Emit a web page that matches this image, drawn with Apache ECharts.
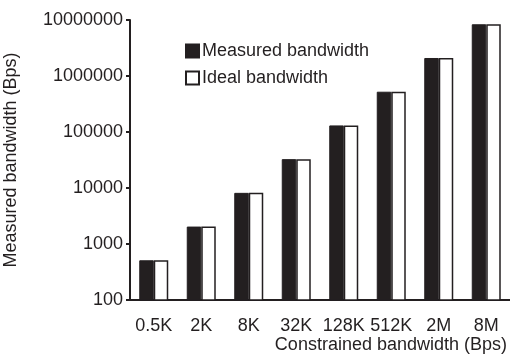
<!DOCTYPE html>
<html>
<head>
<meta charset="utf-8">
<script src="https://cdn.jsdelivr.net/npm/echarts@6/dist/echarts.min.js"></script>
<style>
  html, body { margin: 0; padding: 0; background: #fff; }
  #chart { width: 510px; height: 355px; }
</style>
</head>
<body>
<div id="chart"></div>
<script>
// Constrained link rates and the throughput observed at each one
const categories = ['0.5K', '2K', '8K', '32K', '128K', '512K', '2M', '8M'];
const measuredBandwidth = [512, 2048, 8192, 32768, 131072, 524288, 2097152, 8388608];
const idealBandwidth = [512, 2048, 8192, 32768, 131072, 524288, 2097152, 8388608];
const yTickLabels = ['100', '1000', '10000', '100000', '1000000', '10000000'];

const ink = '#231f20';
const font = "'Liberation Sans', Arial, Helvetica, sans-serif";
const fs = 18;

const chart = echarts.init(document.getElementById('chart'), null, { renderer: 'canvas' });

chart.setOption({
  animation: false,
  backgroundColor: '#fff',
  textStyle: { fontFamily: font, color: ink },
  grid: { left: 130, right: 0, top: 20, bottom: 55, containLabel: false, outerBoundsMode: 'none' },
  legend: {
    orient: 'vertical',
    left: 180,
    top: 37,
    itemWidth: 13,
    itemHeight: 13,
    itemGap: 9,
    icon: 'rect',
    textStyle: { fontFamily: font, fontSize: fs, color: ink, padding: [0, 0, 0, -2] },
    data: ['Measured bandwidth', 'Ideal bandwidth']
  },
  xAxis: {
    type: 'category',
    data: categories,
    axisLine: { show: true, lineStyle: { color: ink, width: 2 } },
    axisTick: { show: false },
    axisLabel: { fontFamily: font, fontSize: fs, color: ink, margin: 17, interval: 0 },
    name: 'Constrained bandwidth (Bps)',
    nameLocation: 'end',
    nameGap: -3,
    nameTextStyle: {
      fontFamily: font, fontSize: fs, color: ink,
      align: 'right', verticalAlign: 'top', padding: [36, 0, 0, 0]
    }
  },
  yAxis: {
    type: 'log',
    logBase: 10,
    min: 100,
    max: 10000000,
    splitLine: { show: false },
    axisLine: { show: true, lineStyle: { color: ink, width: 2 } },
    axisTick: { show: true, inside: false, length: 4, lineStyle: { color: ink, width: 2 } },
    axisLabel: {
      fontFamily: font, fontSize: fs, color: ink, margin: 7,
      formatter: function (v) {
        const idx = Math.round(Math.log10(v)) - 2;
        return yTickLabels[idx] !== undefined ? yTickLabels[idx] : '';
      }
    },
    name: 'Measured bandwidth (Bps)',
    nameLocation: 'middle',
    nameGap: 110,
    nameTextStyle: { fontFamily: font, fontSize: fs, color: ink }
  },
  series: [
    {
      name: 'Measured bandwidth',
      type: 'bar',
      data: measuredBandwidth,
      barWidth: 14.5,
      barGap: '0%',
      itemStyle: { color: ink, borderColor: ink, borderWidth: 1 }
    },
    {
      name: 'Ideal bandwidth',
      type: 'bar',
      data: idealBandwidth,
      barWidth: 14.5,
      barGap: '0%',
      itemStyle: { color: '#fff', borderColor: ink, borderWidth: 1.5 }
    }
  ]
});
</script>
</body>
</html>
